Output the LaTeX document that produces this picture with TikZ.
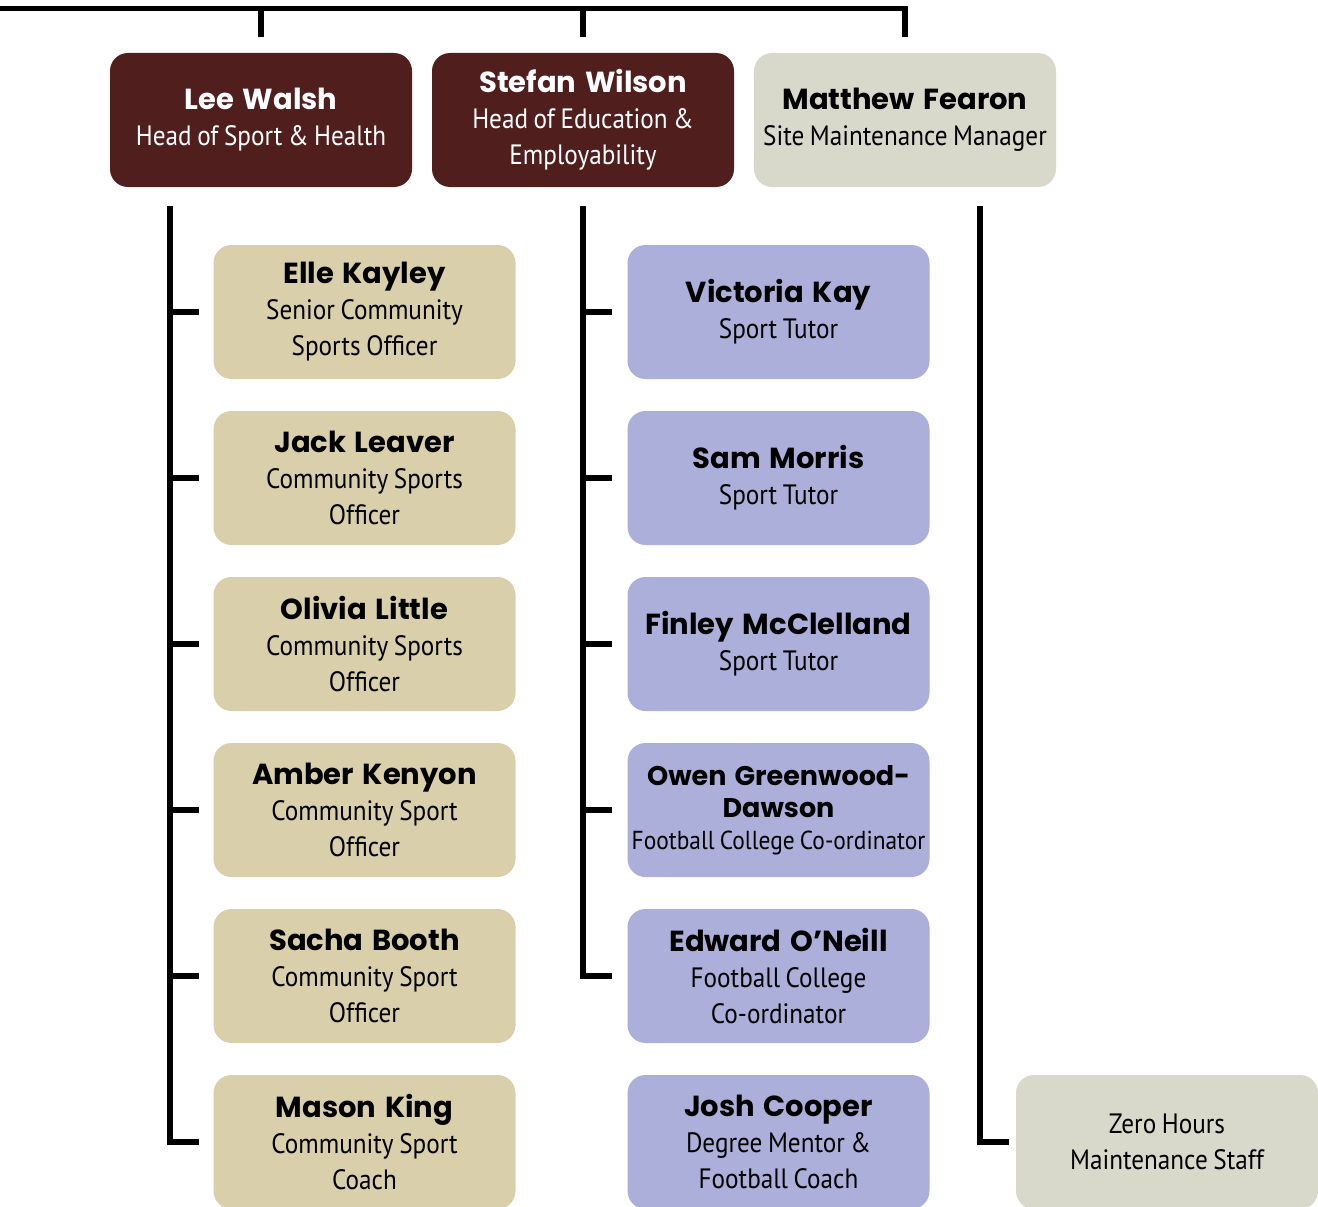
\documentclass[tikz,border=0pt]{standalone}
\usepackage{fontspec}
\setmainfont{PT Sans}
\newfontfamily\namefont{Poppins}
\newfontfamily\rolefont[FakeStretch=0.9]{PT Sans}
\usepackage{tikz}
\usetikzlibrary{calc}
\definecolor{maroon}{HTML}{511E1E}
\definecolor{tanbox}{HTML}{D9CFAA}
\definecolor{greybox}{HTML}{D8D8CB}
\definecolor{lilacbox}{HTML}{ABAFD9}
\tikzset{staff box/.style={rounded corners=18pt, minimum width=302pt, minimum height=134pt, inner sep=0pt, text width=300pt, align=center}}
\tikzset{head box/.style={staff box, fill=maroon, text=white}}
\tikzset{site box/.style={staff box, fill=greybox}}
\tikzset{sport box/.style={staff box, fill=tanbox}}
\tikzset{tutor box/.style={staff box, fill=lilacbox}}
\tikzset{link/.style={draw, line width=5.5pt}}
\newcommand{\namesize}[2][36]{\namefont\bfseries\fontsize{#2}{#1}\selectfont\spaceskip=0.3em\relax}
\newcommand{\rolesize}[2][36]{\rolefont\mdseries\fontsize{#2}{#1}\selectfont\spaceskip=0.2em\relax}
\newcommand{\person}[2]{\namesize{29}#1\\\rolesize{28}#2\par}

\begin{document}
\begin{tikzpicture}[x=1pt, y=-1pt]
  \useasboundingbox (0, 0) rectangle (1318, 1207);

  % heads
  \node[head box] at (261, 120) (lw) {\person{Lee Walsh}{Head of Sport \& Health}};
  \node[head box] at (583, 120) (sw) {\person{Stefan Wilson}{Head of Education \&\\Employability}};
  \node[site box] at (905, 120) (mf) {\person{Matthew Fearon}{Site Maintenance Manager}};

  % sport and health
  \node[sport box] at (364.5, 312) (ek) {\person{Elle Kayley}{Senior Community\\Sports Officer}};
  \node[sport box] at (364.5, 478) (jl) {\person{Jack Leaver}{Community Sports\\Officer}};
  \node[sport box] at (364.5, 644) (ol) {\person{Olivia Little}{Community Sports\\Officer}};
  \node[sport box] at (364.5, 810) (ak) {\person{Amber Kenyon}{Community Sport\\Officer}};
  \node[sport box] at (364.5, 976) (sb) {\person{Sacha Booth}{Community Sport\\Officer}};
  \node[sport box] at (364.5, 1142) (mk) {\person{Mason King}{Community Sport\\Coach}};

  % education and employability
  \node[tutor box] at (778.5, 312) (vk) {\person{Victoria Kay}{Sport Tutor}};
  \node[tutor box] at (778.5, 478) (sm) {\person{Sam Morris}{Sport Tutor}};
  \node[tutor box] at (778.5, 644) (fm) {\person{Finley McClelland}{Sport Tutor}};
  \node[tutor box] at (778.5, 810) (og) {\namesize[32]{27}Owen Greenwood-\\Dawson\\\rolesize[32]{26}\makebox[0pt]{Football College Co-ordinator}\par};
  \node[tutor box] at (778.5, 976) (eo) {\person{Edward O’Neill}{Football College\\Co-ordinator}};
  \node[tutor box] at (778.5, 1142) (jc) {\person{Josh Cooper}{Degree Mentor \&\\Football Coach}};

  % maintenance
  \node[site box] at (1167, 1142) (zh) {\rolesize{28}Zero Hours\\Maintenance Staff\par};

  % top bar
  \coordinate (bar) at (-20, 8.5);
  \draw[link, shorten >=16pt] (bar) -| (mf.north);
  \draw[link, shorten >=16pt] (lw.north |- bar) -- (lw.north);
  \draw[link, shorten >=16pt] (sw.north |- bar) -- (sw.north);

  % spines
  \coordinate (lw top) at (170, 206);
  \coordinate (sw top) at (583, 206);
  \coordinate (mf top) at (980, 206);

  \draw[link, shorten >=14pt] (lw top) |- (mk.west);
  \draw[link, shorten >=14pt] (lw top |- ek.west) -- (ek.west);
  \draw[link, shorten >=14pt] (lw top |- jl.west) -- (jl.west);
  \draw[link, shorten >=14pt] (lw top |- ol.west) -- (ol.west);
  \draw[link, shorten >=14pt] (lw top |- ak.west) -- (ak.west);
  \draw[link, shorten >=14pt] (lw top |- sb.west) -- (sb.west);

  \draw[link, shorten >=15pt] (sw top) |- (eo.west);
  \draw[link, shorten >=15pt] (sw top |- vk.west) -- (vk.west);
  \draw[link, shorten >=15pt] (sw top |- sm.west) -- (sm.west);
  \draw[link, shorten >=15pt] (sw top |- fm.west) -- (fm.west);
  \draw[link, shorten >=15pt] (sw top |- og.west) -- (og.west);

  \draw[link, shorten >=7pt] (mf top) |- (zh.west);
\end{tikzpicture}
\end{document}
